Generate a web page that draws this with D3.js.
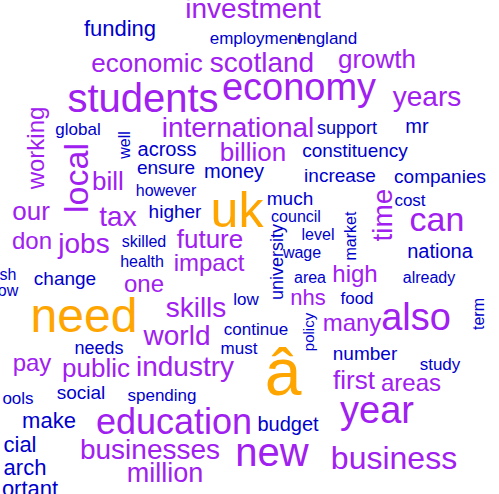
<!DOCTYPE html>
<html>
<head>
<meta charset="utf-8">
<script src="https://cdn.jsdelivr.net/npm/d3@7"></script>
<style>body{margin:0;background:#fff}</style>
</head>
<body>
<svg id="chart"></svg>
<script>
// word, weight (frequency proxy), colour tier
const words = ["investment","funding","employment","england","economic","scotland","growth","students","economy","years",
  "working","global","well","international","support","mr","local","across","billion","constituency",
  "ensure","money","bill","increase","companies","however","much","cost","uk","time",
  "our","tax","higher","council","level","university","market","can","don","jobs",
  "skilled","future","wage","nationa","health","impact","area","high","already","sh",
  "ow","change","one","low","nhs","food","skills","term","need","world",
  "continue","policy","many","also","must","needs","industry","public","pay","number",
  "study","â","first","areas","social","spending","ools","make","education","budget",
  "year","cial","businesses","new","business","million","arch","ortant"];
const weights = [28,22,17,17,26,28,26,40,38,28,
  24,17,16,28,18,20,34,20,26,19,
  19,20,26,19,19,16,19,17,50,28,
  26,28,19,16,16,18,16,34,24,28,
  16,26,16,20,16,24,16,24,16,16,
  16,19,24,17,22,17,28,16,48,28,
  17,15,24,38,17,18,28,26,24,19,
  17,66,26,24,19,17,17,22,36,20,
  38,22,28,40,32,27,22,22];
const tiers = [1,0,0,0,1,1,1,1,1,1,
  1,0,0,1,0,0,1,0,1,0,
  0,0,1,0,0,0,0,0,2,1,
  1,1,0,0,0,0,0,1,1,1,
  0,1,0,0,0,1,0,1,0,0,
  0,0,1,0,1,0,1,0,2,1,
  0,0,1,1,0,0,1,1,1,0,
  0,2,1,1,0,0,0,0,1,0,
  1,0,1,1,1,1,0,0];

// layout: centre x, baseline y, rotation
const layout = [[253,18,0],[120,36,0],[256,44,0],[327,44,0],[147,72,0],[262,72,0],[377,68,0],[143,112,0],[299,100,0],[427,106,0],
  [36,148,-90],[78,135,0],[124,145,-90],[238,137,0],[347,134,0],[417,133,0],[76,178,-90],[167,156,0],[253,161,0],[355,157,0],
  [166,174,0],[234,178,0],[108,190,0],[340,182,0],[440,183,0],[166,196,0],[290,205,0],[410,206,0],[237,227,0],[382,215,-90],
  [31,220,0],[118,226,0],[175,218,0],[296,222,0],[318,240,0],[277,262,-90],[350,236,-90],[437,231,0],[32,249,0],[84,253,0],
  [144,247,0],[210,248,0],[302,258,0],[440,258,0],[142,267,0],[209,271,0],[310,283,0],[355,282,0],[429,283,0],[8,280,0],
  [8,296,0],[65,285,0],[144,292,0],[246,305,0],[308,305,0],[357,304,0],[196,317,0],[478,314,-90],[84,332,0],[177,345,0],
  [256,335,0],[309,332,-90],[352,331,0],[416,330,0],[239,354,0],[99,354,0],[185,376,0],[96,377,0],[32,371,0],[365,360,0],
  [440,370,0],[283,395,0],[354,389,0],[411,391,0],[81,399,0],[162,401,0],[18,404,0],[49,428,0],[174,434,0],[288,431,0],
  [377,423,0],[20,452,0],[150,459,0],[272,466,0],[394,469,0],[165,482,0],[25,475,0],[30,496,0]];

const width = 499, height = 494;
const colours = ["#0000CD", "#A020F0", "#FFA500"];
const size = d3.scaleLinear().domain([10, 70]).range([10, 70]);
const colour = d3.scaleOrdinal().domain([0, 1, 2]).range(colours);

const svg = d3.select("#chart").attr("width", width).attr("height", height);

const data = words.map((w, i) => ({ word: w, weight: weights[i], tier: tiers[i], x: layout[i][0], y: layout[i][1], r: layout[i][2] }));

svg.append("g").selectAll("text")
  .data(data)
  .join("text")
  .attr("text-anchor", "middle")
  .attr("transform", d => d.r ? `translate(${d.x},${d.y}) rotate(${d.r}) translate(0,${size(d.weight) * 0.35})` : `translate(${d.x},${d.y})`)
  .attr("font-family", "Liberation Sans, Arial, sans-serif")
  .attr("font-size", d => size(d.weight) + "px")
  .attr("fill", d => colour(d.tier))
  .text(d => d.word);
</script>
</body>
</html>
